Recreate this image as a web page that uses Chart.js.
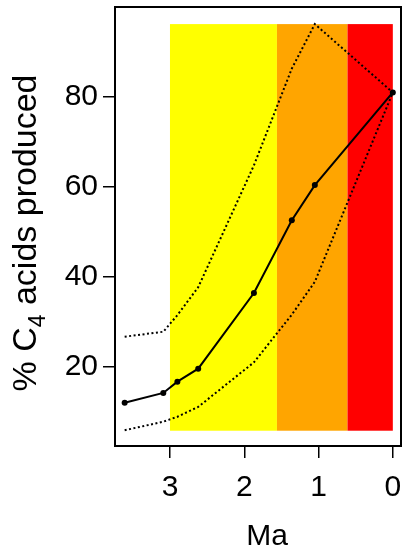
<!DOCTYPE html>
<html>
<head>
<meta charset="utf-8">
<script src="https://cdn.jsdelivr.net/npm/chart.js@4.4.0/dist/chart.umd.min.js"></script>
<style>
  html, body { margin: 0; padding: 0; background: #fff; }
  #c4Chart { display: block; }
</style>
</head>
<body>
<canvas id="c4Chart" width="405" height="550"></canvas>
<script>
// Data (age in Ma, % C4 acids)
const ages = [3.61, 3.09, 2.90, 2.62, 1.87, 1.36, 1.05, 0];
const c4Mean = [12.0, 14.2, 16.7, 19.6, 36.4, 52.6, 60.4, 81.0];
const c4Upper = [26.7, 27.8, 31.5, 37.7, 64.8, 86.3, 96.2, 81.0];
const c4Lower = [5.9, 7.8, 8.9, 11.1, 21.0, 31.6, 38.9, 81.0];

// Background periods (Ma boundaries) and their colours
const bandEdges = [3, 1.56, 0.61, 0];
const bandColors = ["#ffff00", "#ffa500", "#ff0000"];
const bandRange = [5.8, 96.2];

const xTicks = [3, 2, 1, 0];
const yTicks = [20, 40, 60, 80];

const FONT = "'Liberation Sans', Arial, Helvetica, sans-serif";

function toPoints(values) {
  return ages.map((a, i) => ({ x: a, y: values[i] }));
}

// no extra room for edge labels, the plot box is fixed
function noPadding(s) {
  s.paddingTop = 0;
  s.paddingBottom = 0;
  s.paddingLeft = 0;
  s.paddingRight = 0;
}

// Coloured period bands behind the lines
const bandsPlugin = {
  id: "bands",
  beforeDatasetsDraw(chart) {
    const { ctx, scales: { x, y } } = chart;
    const top = y.getPixelForValue(bandRange[1]);
    const bottom = y.getPixelForValue(bandRange[0]);
    ctx.save();
    for (let i = 0; i < bandColors.length; i++) {
      const x1 = x.getPixelForValue(bandEdges[i]);
      const x2 = x.getPixelForValue(bandEdges[i + 1]);
      ctx.fillStyle = bandColors[i];
      ctx.fillRect(x1, top, x2 - x1, bottom - top);
    }
    ctx.restore();
  }
};

// Box around the plot + axis titles (y title needs a subscript)
const framePlugin = {
  id: "frame",
  afterDraw(chart) {
    const { ctx, chartArea: a } = chart;
    ctx.save();
    ctx.strokeStyle = "#000";
    ctx.lineWidth = 2;
    ctx.strokeRect(a.left, a.top, a.right - a.left, a.bottom - a.top);

    ctx.fillStyle = "#000";
    ctx.textBaseline = "alphabetic";

    // x title
    ctx.font = "30px " + FONT;
    ctx.textAlign = "center";
    ctx.fillText("Ma", 267, 545);

    // y title: "% C" + sub 4 + " acids produced"
    const big = "34px " + FONT;
    const small = "23px " + FONT;
    const parts = [
      { text: "% C", font: big, dy: 0 },
      { text: "4", font: small, dy: 9 },
      { text: " acids produced", font: big, dy: 0 }
    ];
    let total = 0;
    parts.forEach(p => { ctx.font = p.font; p.w = ctx.measureText(p.text).width; total += p.w; });
    ctx.translate(36, 233);
    ctx.rotate(-Math.PI / 2);
    ctx.textAlign = "left";
    let pos = -total / 2;
    parts.forEach(p => {
      ctx.font = p.font;
      ctx.fillText(p.text, pos, p.dy);
      pos += p.w;
    });
    ctx.restore();
  }
};

const ctxC4 = document.getElementById("c4Chart");
new Chart(ctxC4, {
  type: "line",
  data: {
    datasets: [
      {
        label: "upper",
        data: toPoints(c4Upper),
        borderColor: "#000",
        borderWidth: 2,
        borderDash: [2, 2.5],
        pointRadius: 0,
        fill: false,
        tension: 0
      },
      {
        label: "lower",
        data: toPoints(c4Lower),
        borderColor: "#000",
        borderWidth: 2,
        borderDash: [2, 2.5],
        pointRadius: 0,
        fill: false,
        tension: 0
      },
      {
        label: "% C4",
        data: toPoints(c4Mean),
        borderColor: "#000",
        borderWidth: 2,
        pointRadius: 3,
        pointBackgroundColor: "#000",
        pointBorderColor: "#000",
        pointBorderWidth: 0,
        fill: false,
        tension: 0
      }
    ]
  },
  options: {
    responsive: false,
    animation: false,
    devicePixelRatio: 1,
    layout: { padding: { top: 7, right: 2, left: 0, bottom: 0 } },
    plugins: {
      legend: { display: false },
      tooltip: { enabled: false }
    },
    scales: {
      x: {
        type: "linear",
        reverse: true,
        min: -0.11,
        max: 3.74,
        afterFit: s => { s.height = 104; noPadding(s); },
        afterBuildTicks: s => { s.ticks = xTicks.map(v => ({ value: v })); },
        border: { display: false },
        grid: { drawOnChartArea: false, drawTicks: true, tickLength: 12, color: "#000", lineWidth: 1.5 },
        ticks: { color: "#000", font: { size: 30, family: FONT }, padding: 12, maxRotation: 0, autoSkip: false }
      },
      y: {
        type: "linear",
        min: 2.4,
        max: 100,
        afterFit: s => { s.width = 115; noPadding(s); },
        afterBuildTicks: s => { s.ticks = yTicks.map(v => ({ value: v })); },
        border: { display: false },
        grid: { drawOnChartArea: false, drawTicks: true, tickLength: 12, color: "#000", lineWidth: 1.5 },
        ticks: { color: "#000", font: { size: 30, family: FONT }, padding: 5, autoSkip: false }
      }
    }
  },
  plugins: [bandsPlugin, framePlugin]
});
</script>
</body>
</html>
